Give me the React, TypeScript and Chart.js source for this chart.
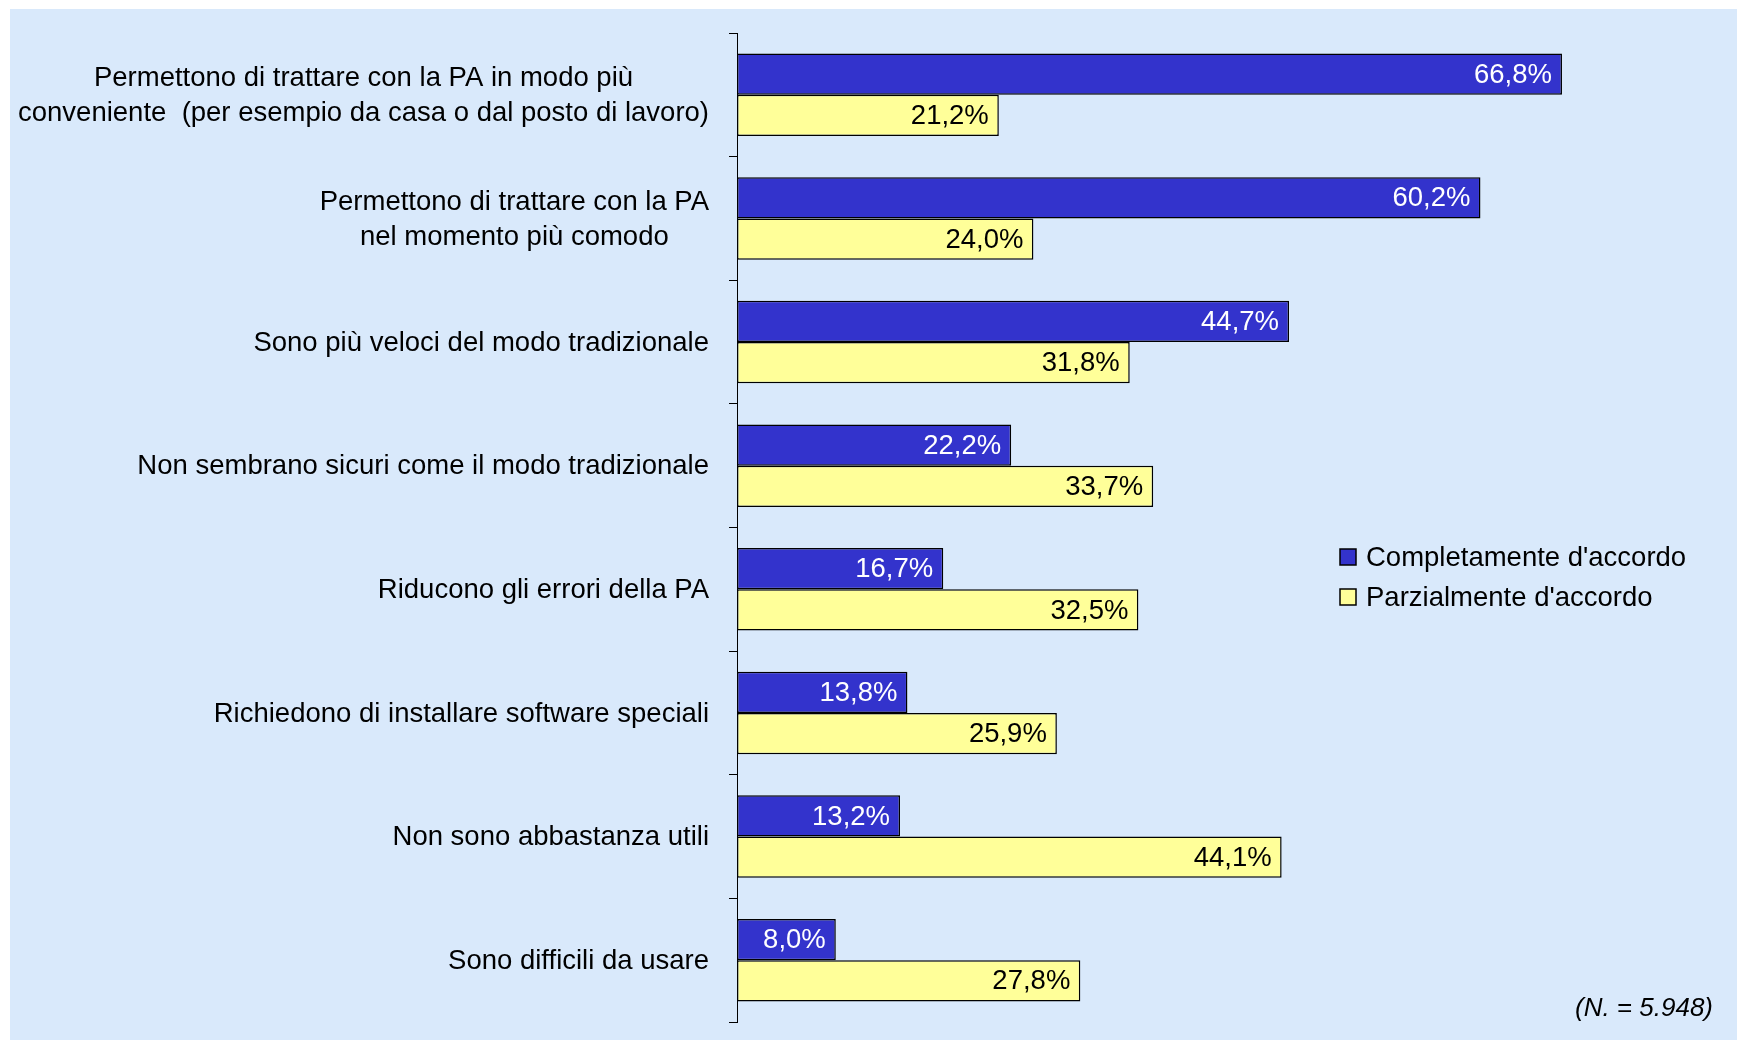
import React, { useEffect, useRef } from "react";
import { Chart, registerables } from "chart.js";

Chart.register(...registerables);

const categories: (string | string[])[] = [
  ["Permettono di trattare con la PA in modo più", "conveniente  (per esempio da casa o dal posto di lavoro)"],
  ["Permettono di trattare con la PA", "nel momento più comodo"],
  "Sono più veloci del modo tradizionale",
  "Non sembrano sicuri come il modo tradizionale",
  "Riducono gli errori della PA",
  "Richiedono di installare software speciali",
  "Non sono abbastanza utili",
  "Sono difficili da usare",
];

const completamente = [66.8, 60.2, 44.7, 22.2, 16.7, 13.8, 13.2, 8.0];
const parzialmente = [21.2, 24.0, 31.8, 33.7, 32.5, 25.9, 44.1, 27.8];
const seriesNames = ["Completamente d'accordo", "Parzialmente d'accordo"];
const noteText = "(N. = 5.948)";

const FONT = "'Liberation Sans', Arial, sans-serif";
const BLUE = "#3333CC";
const YELLOW = "#FFFF99";

const fmt = (v: number) => v.toFixed(1).replace(".", ",") + "%";

const valueLabelsPlugin = {
  id: "valueLabels",
  afterDatasetsDraw(chart: any) {
    const ctx = chart.ctx;
    ctx.save();
    ctx.font = `27.5px ${FONT}`;
    ctx.textAlign = "right";
    ctx.textBaseline = "middle";
    chart.data.datasets.forEach((ds: any, di: number) => {
      const meta = chart.getDatasetMeta(di);
      meta.data.forEach((bar: any, i: number) => {
        ctx.fillStyle = di === 0 ? "#ffffff" : "#000000";
        ctx.fillText(fmt(ds.data[i]), bar.x - 10, bar.y + 1);
      });
    });
    ctx.restore();
  },
};

// Category labels: each label is a centred block, right-aligned next to the axis
const categoryLabelsPlugin = {
  id: "categoryLabels",
  afterDraw(chart: any) {
    const scale = chart.scales.y;
    const ctx = chart.ctx;
    ctx.save();
    ctx.font = `27.5px ${FONT}`;
    ctx.fillStyle = "#000";
    ctx.textAlign = "center";
    ctx.textBaseline = "middle";
    const right = scale.right - 8 - 20;
    const lh = 35;
    chart.data.labels.forEach((lab: any, i: number) => {
      const lines: string[] = Array.isArray(lab) ? lab : [lab];
      const maxW = Math.max(...lines.map((l) => ctx.measureText(l).width));
      const cx = right - maxW / 2;
      const cy = scale.getPixelForTick(i);
      const y0 = cy - ((lines.length - 1) * lh) / 2;
      lines.forEach((l, k) => ctx.fillText(l, cx, y0 + k * lh + 1));
    });
    ctx.restore();
  },
};

const legendPlugin = {
  id: "customLegend",
  afterDraw(chart: any) {
    const ctx = chart.ctx;
    ctx.save();
    const boxX = 1340;
    const rows = [557, 597];
    const colors = [BLUE, YELLOW];
    ctx.font = `27.5px ${FONT}`;
    ctx.textAlign = "left";
    ctx.textBaseline = "middle";
    rows.forEach((cy, i) => {
      ctx.fillStyle = colors[i];
      ctx.fillRect(boxX, cy - 8, 16, 16);
      ctx.strokeStyle = "#000";
      ctx.lineWidth = 1.5;
      ctx.strokeRect(boxX, cy - 8, 16, 16);
      ctx.fillStyle = "#000";
      ctx.fillText(seriesNames[i], 1366, cy + 1);
    });
    ctx.font = `italic 26px ${FONT}`;
    ctx.textAlign = "right";
    ctx.textBaseline = "alphabetic";
    ctx.fillText(noteText, 1713, 1016);
    ctx.restore();
  },
};

export default function App() {
  const ref = useRef<HTMLCanvasElement | null>(null);

  useEffect(() => {
    if (!ref.current) return;
    const chart = new Chart(ref.current, {
      type: "bar",
      data: {
        labels: categories,
        datasets: [
          {
            label: seriesNames[0],
            data: completamente,
            backgroundColor: BLUE,
            borderColor: "#000",
            borderWidth: 1.5,
            borderSkipped: false,
            categoryPercentage: 0.667,
            barPercentage: 1.0,
          },
          {
            label: seriesNames[1],
            data: parzialmente,
            backgroundColor: YELLOW,
            borderColor: "#000",
            borderWidth: 1.5,
            borderSkipped: false,
            categoryPercentage: 0.667,
            barPercentage: 1.0,
          },
        ],
      },
      options: {
        indexAxis: "y",
        responsive: false,
        animation: false,
        layout: { padding: { top: 33, bottom: 21, right: 12, left: 0 } },
        plugins: {
          legend: { display: false },
          tooltip: { enabled: false },
        },
        scales: {
          x: { display: false, min: 0, max: 80 },
          y: {
            afterFit: (scale: any) => {
              scale.width = 737;
              scale.paddingTop = 0;
              scale.paddingBottom = 0;
            },
            grid: {
              drawOnChartArea: false,
              drawTicks: true,
              tickLength: 8,
              tickColor: "#000",
              tickWidth: 1,
              offset: true,
            },
            border: { display: true, color: "#000", width: 1 },
            ticks: {
              display: false,
              autoSkip: false,
            },
          },
        },
      },
      plugins: [valueLabelsPlugin, categoryLabelsPlugin, legendPlugin],
    });
    return () => chart.destroy();
  }, []);

  return (
    <div
      style={{
        position: "absolute",
        left: 0,
        top: 0,
        width: 1737,
        height: 1043,
        background: "#ffffff",
        overflow: "hidden",
      }}
    >
      <div
        style={{
          position: "absolute",
          left: 10,
          top: 9,
          width: 1727,
          height: 1031,
          background: "#d9e9fb",
        }}
      />
      <canvas
        ref={ref}
        width={1737}
        height={1043}
        style={{ position: "absolute", left: 0, top: 0, width: 1737, height: 1043 }}
      />
    </div>
  );
}
